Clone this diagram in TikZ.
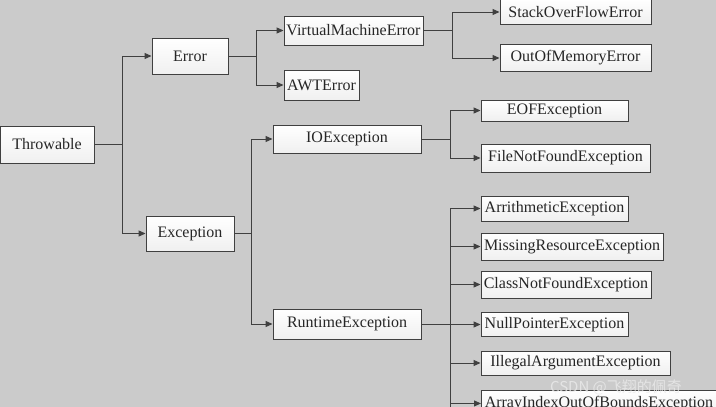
\documentclass[tikz,border=0pt]{standalone}
\usepackage{fontspec}
\setmainfont{Liberation Serif}
\newfontfamily\cjk{Noto Sans CJK SC}
\usetikzlibrary{arrows.meta}
\definecolor{bg}{HTML}{CBCBCB}
\definecolor{ln}{HTML}{404040}
\begin{document}
\begin{tikzpicture}[x=1pt,y=-1pt,
  box/.style={draw=ln,line width=0.9pt,top color=white,bottom color=black!6,inner sep=0pt,font=\fontsize{16}{18}\selectfont,text=black!85},
  ar/.style={draw=ln,line width=1pt,-{Triangle[length=7pt,width=6pt]}},
  ln/.style={draw=ln,line width=1pt}]
\useasboundingbox (0,0) rectangle (716,407);
\clip (0,0) rectangle (716,407);
\fill[bg] (0,0) rectangle (716,407);
\node[box,minimum width=94pt,minimum height=37pt] (thr) at (47,144.5) {Throwable};
\node[box,minimum width=76pt,minimum height=36pt] (err) at (190,56) {Error};
\node[box,minimum width=139pt,minimum height=29pt] (vme) at (353.5,30.5) {VirtualMachineError};
\node[box,minimum width=75pt,minimum height=30pt] (awt) at (321.5,85) {AWTError};
\node[box,minimum width=151pt,minimum height=25pt] (so) at (575.5,12) {StackOverFlowError};
\node[box,minimum width=151pt,minimum height=27pt] (oom) at (575.5,58) {OutOfMemoryError};
\node[box,minimum width=88pt,minimum height=35pt] (exc) at (190,233.5) {Exception};
\node[box,minimum width=148pt,minimum height=28pt] (io) at (347,139) {IOException};
\node[box,minimum width=147pt,minimum height=21pt] (eof) at (554.5,110.5) {EOFException};
\node[box,minimum width=169pt,minimum height=28pt] (fnf) at (565.5,158) {FileNotFoundException};
\node[box,minimum width=148pt,minimum height=30pt] (rt) at (347,324) {RuntimeException};
\node[box,minimum width=147pt,minimum height=25pt] (ari) at (554.5,208.5) {ArrithmeticException};
\node[box,minimum width=182pt,minimum height=27pt] (mis) at (572,246.5) {MissingResourceException};
\node[box,minimum width=170pt,minimum height=27pt] (cnf) at (566,284.5) {ClassNotFoundException};
\node[box,minimum width=147pt,minimum height=24pt] (np) at (554.5,324.5) {NullPointerException};
\node[box,minimum width=189pt,minimum height=24pt] (ill) at (575.5,363) {IllegalArgumentException};
\node[box,minimum width=235pt,minimum height=26pt,anchor=north west] (arr) at (481,390) {ArrayIndexOutOfBoundsException};
\coordinate (bot) at (450,420);
% connectors
\draw[ln] (thr.east) -- (122,144.5);
\draw[ar] (122,144.5) |- (err.west);
\draw[ar] (122,144.5) |- (exc.west);
\draw[ln] (err.east) -- (256,56);
\draw[ar] (256,56) |- (vme.west);
\draw[ar] (256,56) |- (awt.west);
\draw[ln] (vme.east) -- (452,30.5);
\draw[ar] (452,30.5) |- (so.west);
\draw[ar] (452,30.5) |- (oom.west);
\draw[ln] (exc.east) -- (251,233.5);
\draw[ar] (251,233.5) |- (io.west);
\draw[ar] (251,233.5) |- (rt.west);
\draw[ln] (io.east) -- (450,139);
\draw[ar] (450,139) |- (eof.west);
\draw[ar] (450,139) |- (fnf.west);
\draw[ln] (rt.east) -- (450,324);
\draw[ln] (450,208.5) -- (bot);
\foreach \n in {ari,mis,cnf,np,ill,arr}{\draw[ar] (450,0|-\n.west) -- (\n.west);}
\node[text=white!92!black,font=\cjk\fontsize{15}{17}\selectfont,opacity=0.8] (wm) at (616,387) {CSDN @飞翔的佩奇};
\end{tikzpicture}
\end{document}
